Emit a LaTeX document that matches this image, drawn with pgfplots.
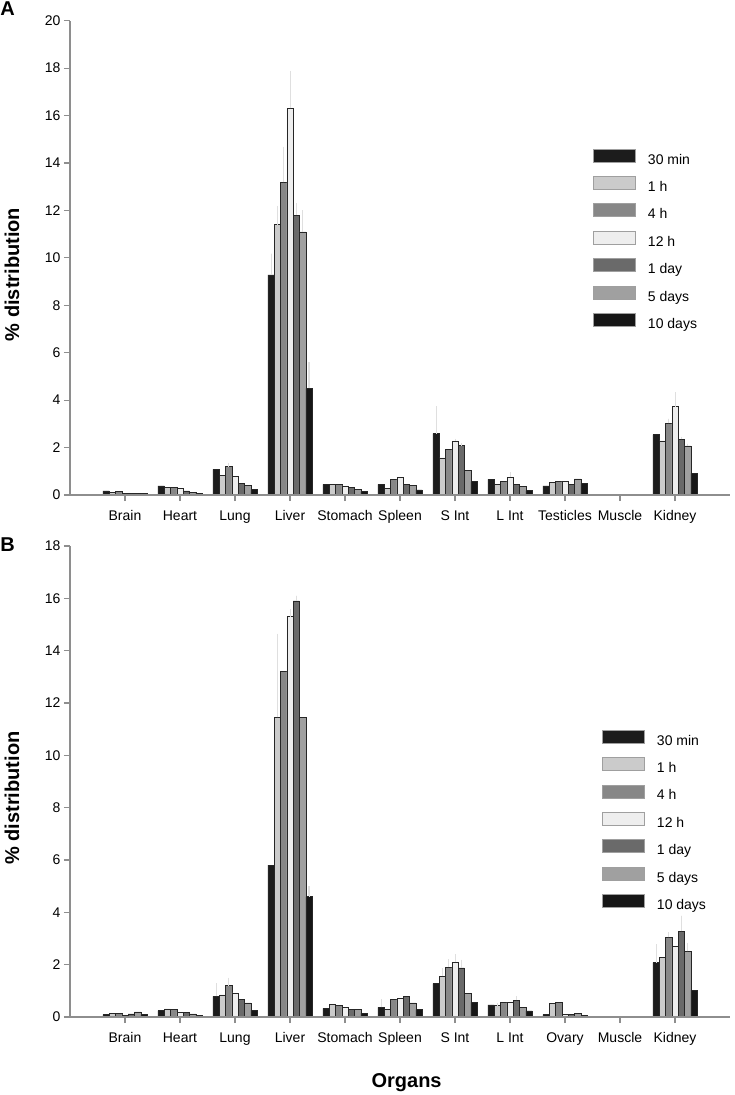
\documentclass[border=0pt]{standalone}
\usepackage{fontspec}
\setmainfont{Liberation Sans}
\usepackage{pgfplots}
\usepackage{pgfplotstable}
\pgfplotsset{compat=1.18}

\definecolor{c1}{HTML}{1C1C1C}
\definecolor{c2}{HTML}{CBCBCB}
\definecolor{c3}{HTML}{878787}
\definecolor{c4}{HTML}{EEEEEE}
\definecolor{c5}{HTML}{6A6A6A}
\definecolor{c6}{HTML}{A0A0A0}
\definecolor{c7}{HTML}{161616}
\definecolor{axgray}{HTML}{8E8E8E}

% panel A: % distribution per organ, columns = time points, e* = upper error
\pgfplotstableread{
x  v1   v2    v3    v4    v5    v6    v7   e1   e2   e3   e4   e5   e6   e7
0  0.17 0.10  0.15  0.07  0.07  0.07  0.06 0    0    0    0    0    0    0
1  0.38 0.31  0.31  0.28  0.17  0.10  0.08 0    0    0    0    0    0    0
2  1.08 0.84  1.20  0.80  0.49  0.41  0.23 0    0    0.15 0    0    0    0
3  9.28 11.40 13.18 16.30 11.80 11.10 4.50 0.9  0.8  1.5  1.6  0.5  0.9  1.1
4  0.45 0.45  0.44  0.38  0.31  0.24  0.14 0    0    0    0    0    0    0
5  0.45 0.27  0.67  0.75  0.45  0.41  0.22 0    0    0    0    0    0    0
6  2.59 1.57  1.91  2.28  2.08  1.03  0.56 1.15 0    0    0.1  0.1  0    0
7  0.66 0.45  0.56  0.75  0.46  0.35  0.18 0    0    0    0.2  0    0    0
8  0.38 0.52  0.58  0.58  0.45  0.68  0.49 0    0    0    0    0    0    0
9  0    0     0     0     0     0     0    0    0    0    0    0    0    0
10 2.55 2.28  3.02  3.73  2.35  2.07  0.91 0    0    0.2  0.6  0.1  0.1  0
}\dataA

% panel B
\pgfplotstableread{
x  v1   v2    v3    v4    v5    v6    v7   e1   e2   e3   e4   e5   e6   e7
0  0.09 0.13  0.14  0.08  0.12  0.20  0.09 0    0    0    0    0    0    0
1  0.24 0.31  0.29  0.19  0.19  0.12  0.06 0    0    0    0    0    0    0
2  0.79 0.85  1.20  0.92  0.67  0.54  0.26 0.5  0    0.3  0    0    0    0
3  5.80 11.45 13.20 15.30 15.90 11.45 4.60 0    3.2  0    0.3  0.2  0    0.4
4  0.33 0.47  0.44  0.38  0.28  0.28  0.15 0    0    0    0    0    0    0
5  0.37 0.28  0.67  0.72  0.79  0.54  0.28 0.3  0    0    0    0    0    0
6  1.28 1.56  1.91  2.10  1.88  0.90  0.56 0    0.3  0.3  0.3  0.3  0    0
7  0.46 0.44  0.56  0.56  0.64  0.38  0.23 0    0.1  0    0    0.15 0    0
8  0.09 0.51  0.56  0.09  0.09  0.13  0.05 0    0    0    0    0    0    0
9  0    0     0     0     0     0     0    0    0    0    0    0    0    0
10 2.08 2.29  3.04  2.69  3.27  2.51  1.03 0.7  0    0.2  0    0.6  0.3  0
}\dataB

\pgfplotsset{
  eb/.style={draw=black!85, line width=0.5pt,
    error bars/y dir=plus, error bars/y explicit,
    error bars/error mark=none,
    error bars/error bar style={draw=gray!25, line width=0.6pt},
    legend image code/.code={\draw[##1, draw=gray!75, line width=0.8pt] (0pt,-1.5pt) rectangle (42pt,11.5pt);}},
  organs/.style={
    scale only axis, width=660pt,
    xmin=-1, xmax=11, ymin=0,
    axis on top,
    axis x line*=bottom, axis y line*=left,
    axis line style={draw=axgray, line width=1.6pt},
    every tick/.style={draw=axgray, line width=1.2pt},
    tick align=outside, major tick length=6pt,
    xtick={0,...,10}, ytick distance=2,
    tick label style={font=\fontsize{14}{16}\selectfont},
    xticklabel style={yshift=-6pt},
    /pgf/number format/assume math mode=true,
    ybar=0pt, bar width=6.3pt,
    ylabel={\% distribution},
    ylabel style={font=\bfseries\fontsize{20}{24}\selectfont, at={(axis description cs:-0.088,0.465)}, anchor=center},
    legend cell align=left,
    legend style={draw=none, fill=none, inner sep=0pt, row sep=7pt, column sep=10pt,
      font=\fontsize{14}{16}\selectfont, anchor=north west,
      nodes={inner sep=2pt, text height=10pt, text depth=3pt}},
    clip=false,
  },
}

\begin{document}
\begin{tikzpicture}
\useasboundingbox (0pt,0pt) rectangle (734pt,-1095pt);

\begin{axis}[organs,
  at={(70pt,-495pt)}, anchor=south west, height=474.3pt, ymax=20,
  xticklabels={Brain,Heart,Lung,Liver,Stomach,Spleen,S Int,L Int,Testicles,Muscle,Kidney},
  legend style={at={(axis description cs:0.7924,0.7306)}},
  ]
\addplot[eb, fill=c1] table[x=x, y=v1, y error=e1] {\dataA};
\addplot[eb, fill=c2] table[x=x, y=v2, y error=e2] {\dataA};
\addplot[eb, fill=c3] table[x=x, y=v3, y error=e3] {\dataA};
\addplot[eb, fill=c4] table[x=x, y=v4, y error=e4] {\dataA};
\addplot[eb, fill=c5] table[x=x, y=v5, y error=e5] {\dataA};
\addplot[eb, fill=c6] table[x=x, y=v6, y error=e6] {\dataA};
\addplot[eb, fill=c7] table[x=x, y=v7, y error=e7] {\dataA};
\legend{30 min,1 h,4 h,12 h,1 day,5 days,10 days}
\node[font=\bfseries\fontsize{20}{24}\selectfont] at (rel axis cs:-0.0947,1.0247) {A};
\end{axis}

\begin{axis}[organs,
  at={(70pt,-1017pt)}, anchor=south west, height=471pt, ymax=18,
  xticklabels={Brain,Heart,Lung,Liver,Stomach,Spleen,S Int,L Int,Ovary,Muscle,Kidney},
  xlabel={Organs},
  xlabel style={font=\bfseries\fontsize{20}{24}\selectfont, at={(axis description cs:0.51,-0.140)}, anchor=center},
  legend style={at={(axis description cs:0.806,0.6104)}},
  ]
\addplot[eb, fill=c1] table[x=x, y=v1, y error=e1] {\dataB};
\addplot[eb, fill=c2] table[x=x, y=v2, y error=e2] {\dataB};
\addplot[eb, fill=c3] table[x=x, y=v3, y error=e3] {\dataB};
\addplot[eb, fill=c4] table[x=x, y=v4, y error=e4] {\dataB};
\addplot[eb, fill=c5] table[x=x, y=v5, y error=e5] {\dataB};
\addplot[eb, fill=c6] table[x=x, y=v6, y error=e6] {\dataB};
\addplot[eb, fill=c7] table[x=x, y=v7, y error=e7] {\dataB};
\legend{30 min,1 h,4 h,12 h,1 day,5 days,10 days}
\node[font=\bfseries\fontsize{20}{24}\selectfont] at (rel axis cs:-0.0947,1.002) {B};
\end{axis}
\end{tikzpicture}
\end{document}
